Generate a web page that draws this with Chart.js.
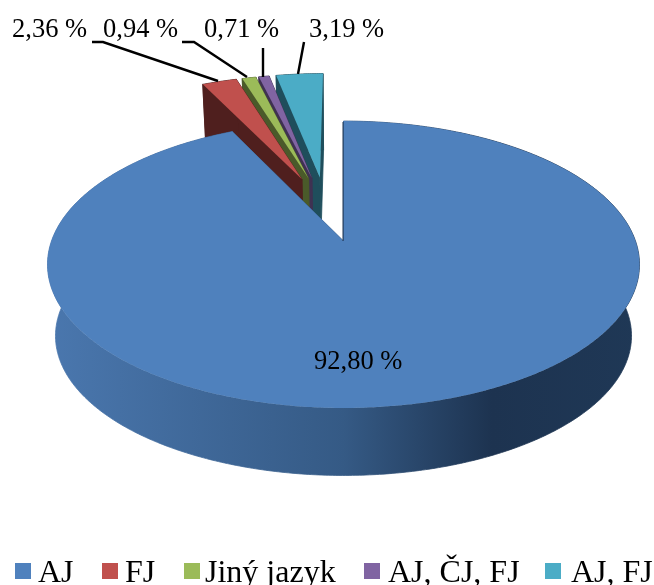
<!DOCTYPE html>
<html>
<head>
<meta charset="utf-8">
<style>html,body{margin:0;padding:0;background:#fff}canvas{display:block}</style>
<script src="https://cdn.jsdelivr.net/npm/chart.js@4/dist/chart.umd.js"></script>
</head>
<body>
<canvas id="c" width="654" height="585"></canvas>
<script>
const categories = ['AJ', 'FJ', 'Jiný jazyk', 'AJ, ČJ, FJ', 'AJ, FJ'];
const shares = [92.80, 2.36, 0.94, 0.71, 3.19];
const shareLabels = ['92,80 %', '2,36 %', '0,94 %', '0,71 %', '3,19 %'];
const topColors = ['#4F81BD', '#C0504D', '#9BBB59', '#8064A2', '#4BACC6'];
const wallColors = ['#1D3350', '#4F1F1E', '#4A5A2A', '#3F3152', '#1F4E5C'];

// Perspective camera for the tilted pie
const view = { cx: 343.5, cy: 241, halfW: 292, halfD: 139.6, persp: 0.1638, depth: 72, baseScale: 0.973 };
const explode = 0.5;
const FONT = '"Liberation Serif", "Times New Roman", serif';

function project(u, w, lower) {
  const s = 1 + view.persp * w;
  const k = lower ? view.baseScale : 1;
  return {
    x: view.cx + k * view.halfW * u / s,
    y: view.cy + (lower ? view.depth : 0) - k * view.halfD * w / s
  };
}

// Outline of a slice in pie-plane coordinates, built from the arc element's angles
function outline(arc, index) {
  const a0 = arc.startAngle + Math.PI / 2;
  const a1 = arc.endAngle + Math.PI / 2;
  let ox = 0, oy = 0;
  if (index > 0) {
    // The detached group fans out around a common axis
    const mid = (a0 + a1) / 2 - 2 * Math.PI;
    const dir = -0.248 + 0.49 * (mid + 0.248);
    ox = explode * Math.sin(dir);
    oy = explode * Math.cos(dir);
  }
  const pts = [{ u: ox, w: oy }];
  const n = Math.max(4, Math.ceil((a1 - a0) / 0.01));
  for (let i = 0; i <= n; i++) {
    const t = a0 + (a1 - a0) * i / n;
    pts.push({ u: ox + Math.sin(t), w: oy + Math.cos(t) });
  }
  return pts;
}

function tracePath(ctx, points) {
  ctx.beginPath();
  points.forEach((s, i) => (i ? ctx.lineTo(s.x, s.y) : ctx.moveTo(s.x, s.y)));
  ctx.closePath();
}

function drawSlice(ctx, arc, index, wallStyle) {
  const pts = outline(arc, index);
  const top = pts.map(p => project(p.u, p.w, false));
  const low = pts.map(p => project(p.u, p.w, true));
  const last = pts.length - 1;
  ctx.fillStyle = wallStyle;
  ctx.strokeStyle = wallStyle;
  ctx.lineWidth = 0.8;
  // Two cut faces, then the curved rim as one continuous band
  [
    [top[0], top[1], low[1], low[0]],
    [top[0], top[last], low[last], low[0]],
    top.slice(1).concat(low.slice(1).reverse())
  ].forEach(face => {
    tracePath(ctx, face);
    ctx.fill();
    ctx.stroke();
  });
  ctx.fillStyle = arc.options.backgroundColor;
  tracePath(ctx, top);
  ctx.fill();
}

const pie3d = {
  id: 'pie3d',
  beforeDatasetsDraw(chart) {
    const ctx = chart.ctx;
    const arcs = chart.getDatasetMeta(0).data;
    const rim = ctx.createLinearGradient(48, 0, 640, 0);
    rim.addColorStop(0, '#4A77AE');
    rim.addColorStop(0.5, '#355A85');
    rim.addColorStop(0.75, '#1D3350');
    rim.addColorStop(1, '#1F3856');
    ctx.save();
    for (let i = arcs.length - 1; i >= 1; i--) drawSlice(ctx, arcs[i], i, wallColors[i]);
    drawSlice(ctx, arcs[0], 0, rim);
    // Dark seam along the cut face of the large slice
    ctx.strokeStyle = wallColors[0];
    ctx.lineWidth = 1;
    ctx.beginPath();
    ctx.moveTo(343, 122); ctx.lineTo(343, 241);
    ctx.stroke();
    ctx.restore();
    return false;
  },
  afterDraw(chart) {
    const ctx = chart.ctx;
    ctx.save();
    // Leader lines
    ctx.strokeStyle = '#000';
    ctx.lineWidth = 2.4;
    ctx.lineJoin = 'miter';
    [
      [[92, 42], [103, 42], [218, 81]],
      [[182, 42], [194, 42], [247, 77]],
      [[263, 48], [263, 77]],
      [[304, 42], [298, 74]]
    ].forEach(line => {
      ctx.beginPath();
      line.forEach(([x, y], i) => (i ? ctx.lineTo(x, y) : ctx.moveTo(x, y)));
      ctx.stroke();
    });
    // Value labels
    ctx.fillStyle = '#000';
    ctx.font = '26.5px ' + FONT;
    ctx.textBaseline = 'alphabetic';
    ctx.textAlign = 'left';
    [[314, 369], [12, 37], [103, 37], [204, 37], [309, 37]].forEach(([x, y], i) => {
      ctx.fillText(shareLabels[i], x, y);
    });
    // Legend row
    ctx.font = '32px ' + FONT;
    [[15, 38], [102, 125], [184, 205], [364, 388], [545, 571]].forEach(([bx, tx], i) => {
      ctx.fillStyle = topColors[i];
      ctx.fillRect(bx, 563, 16, 16);
      ctx.fillStyle = '#000';
      ctx.fillText(categories[i], tx, 582);
    });
    ctx.restore();
  }
};

new Chart(document.getElementById('c'), {
  type: 'pie',
  data: {
    labels: categories,
    datasets: [{ data: shares, backgroundColor: topColors, borderWidth: 0 }]
  },
  options: {
    responsive: false,
    animation: false,
    rotation: 0,
    plugins: { legend: { display: false }, tooltip: { enabled: false } }
  },
  plugins: [pie3d]
});
</script>
</body>
</html>
